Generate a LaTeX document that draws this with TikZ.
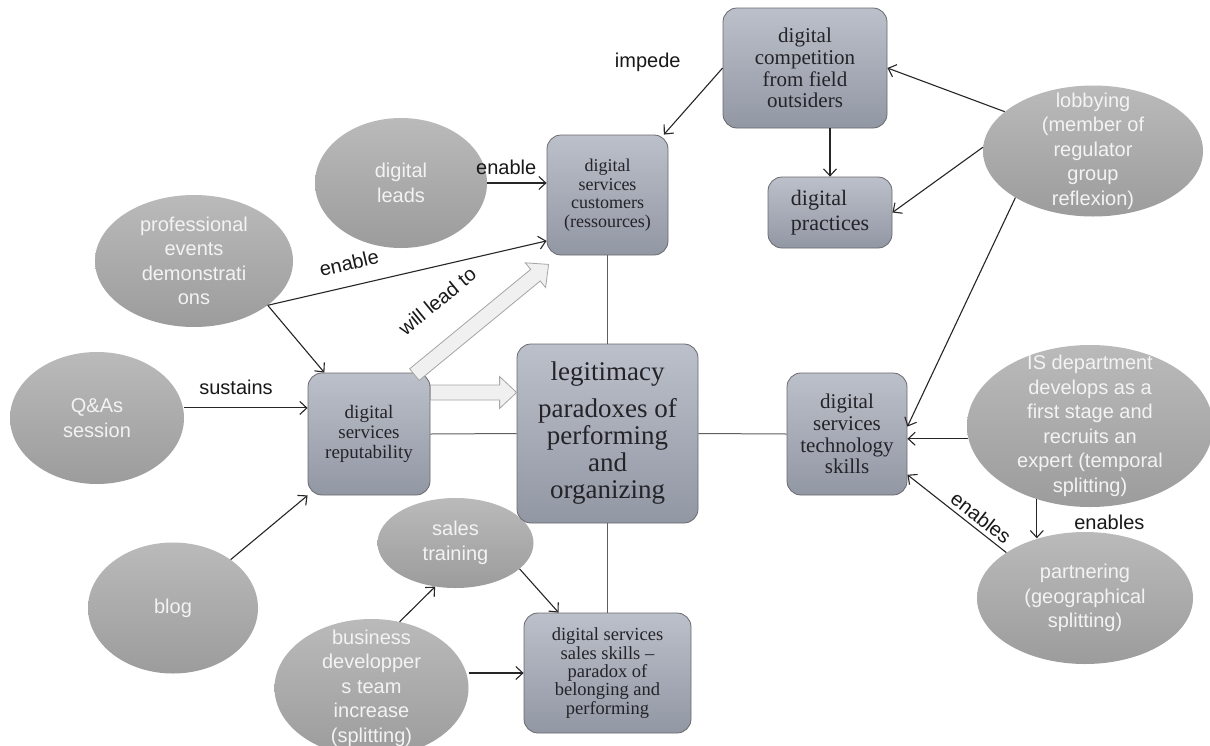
\documentclass[tikz,border=0pt]{standalone}
\usepackage{fontspec}
\setmainfont{Liberation Serif}
\newfontfamily\sansf{Liberation Sans}
\usetikzlibrary{arrows.meta,shapes.geometric,calc}
\definecolor{boxtop}{RGB}{188,192,202}
\definecolor{boxbot}{RGB}{146,151,164}
\definecolor{boxline}{RGB}{105,105,110}
\definecolor{elltop}{RGB}{186,186,186}
\definecolor{ellbot}{RGB}{156,156,156}
\definecolor{elltext}{RGB}{243,243,243}
\definecolor{boxtext}{RGB}{35,35,40}
\definecolor{linkgray}{RGB}{95,95,95}
\definecolor{barrowfill}{RGB}{240,240,240}
\definecolor{barrowline}{RGB}{165,165,165}
\tikzset{
 box/.style={rectangle, rounded corners=14pt, draw=boxline, line width=0.8pt, top color=boxtop, bottom color=boxbot, text=boxtext, align=center, inner sep=0pt},
 ell/.style={ellipse, draw=none, top color=elltop, bottom color=ellbot, inner sep=0pt},
 etext/.style={text=elltext, font=\sansf\fontsize{20}{24.5}\selectfont, align=center, inner sep=0pt},
 lab/.style={font=\sansf\fontsize{20}{24}\selectfont, text=black!90, inner sep=0pt},
 arr/.style={-{Straight Barb[length=7pt,width=13pt]}, line width=1.1pt, draw=black!85},
 link/.style={line width=1pt, draw=linkgray},
 barrow/.style={fill=barrowfill, draw=barrowline, line width=0.8pt},
}
\newcommand\blockarr[2]{%
  \coordinate (bah) at ($(#2)!17pt!(#1)$);
  \path[barrow] ($(#1)!7.5pt!90:(#2)$) -- ($(bah)!7.5pt!-90:(#1)$) -- ($(bah)!16pt!-90:(#1)$) -- (#2)
     -- ($(bah)!16pt!90:(#1)$) -- ($(bah)!7.5pt!90:(#1)$) -- ($(#1)!7.5pt!-90:(#2)$) -- cycle;}
\begin{document}
\begin{tikzpicture}[x=1pt,y=-1pt]
\clip (0,0) rectangle (1210,745);
\fill[white] (0,0) rectangle (1210,745);

% ellipses
\node[ell, minimum width=220pt, minimum height=131pt, label={[etext]center:{lobbying\\(member of\\regulator\\group\\reflexion)}}] (lobby) at (1093,151) {};
\node[ell, minimum width=172pt, minimum height=130pt, label={[etext]center:{digital\\leads}}] (leads) at (401,183) {};
\node[ell, minimum width=198pt, minimum height=132pt, label={[etext]center:{professional\\events\\demonstrati\\ons}}] (prof) at (194,261) {};
\node[ell, minimum width=174pt, minimum height=132pt, label={[etext]center:{Q\&As\\session}}] (QA) at (97,418) {};
\node[ell, minimum width=170pt, minimum height=131pt, label={[etext]center:{blog}}] (blog) at (173,608) {};
\node[ell, minimum width=156pt, minimum height=90pt, label={[etext]center:{sales\\training}}] (st) at (455.5,543) {};
\node[ell, minimum width=194pt, minimum height=138pt, label={[etext]center:{business\\developper\\s team\\increase\\(splitting)}}] (bus) at (371.5,688) {};
\node[ell, minimum width=246pt, minimum height=162pt, label={[etext]center:{IS department\\develops as a\\first stage and\\recruits an\\expert (temporal\\splitting)}}] (IS) at (1090,426) {};
\node[ell, minimum width=216pt, minimum height=132pt, label={[etext]center:{partnering\\(geographical\\splitting)}}] (partner) at (1085,598) {};

% boxes
\node[box, minimum width=164pt, minimum height=120pt, font=\fontsize{21}{21.7}\selectfont] (comp) at (805,68) {digital\\competition\\from field\\outsiders};
\node[box, minimum width=121pt, minimum height=120pt, font=\fontsize{18}{18.5}\selectfont] (cust) at (607.5,195) {digital\\services\\customers\\(ressources)};
\node[box, minimum width=124pt, minimum height=71pt, font=\fontsize{22}{25}\selectfont, align=left] (prac) at (830,212.5) {digital\\practices};
\node[box, minimum width=122pt, minimum height=122pt, font=\fontsize{19}{20}\selectfont] (rep) at (369,434) {digital\\services\\reputability};
\node[box, minimum width=181pt, minimum height=179pt, font=\fontsize{27}{27}\selectfont] (legit) at (607.5,433.5) {legitimacy\\[10pt]paradoxes of\\performing\\and\\organizing};
\node[box, minimum width=120pt, minimum height=122pt, font=\fontsize{21}{21.7}\selectfont] (tech) at (847,434) {digital\\services\\technology\\skills};
\node[box, minimum width=167pt, minimum height=120pt, font=\fontsize{18.5}{18.3}\selectfont] (sales) at (607.5,673) {digital services\\sales skills --\\paradox of\\belonging and\\performing};

% plain links
\draw[link] (cust.south) -- (legit.north);
\draw[link] (legit.south) -- (sales.north);
\draw[link] (rep.east) -- (legit.west);
\draw[link] (legit.east) -- (tech.west);

% block arrows
\coordinate (ba1s) at ($(rep.east)+(0,-41.5)$);
\coordinate (ba1e) at (ba1s -| legit.west);
\blockarr{ba1s}{ba1e}
\coordinate (ba2s) at ($(rep.north east)+(-16,2)$);
\coordinate (ba2e) at ($(cust.south west)+(2,9)$);
\blockarr{ba2s}{ba2e}
\path (ba2s) -- (ba2e) node[lab, sloped, pos=0.37, above=35pt] {will lead to};

% arrows
\draw[arr] (comp.west) -- (cust.47.5) node[lab, at start, anchor=east, xshift=-41.5pt, yshift=6pt] {impede};
\draw[arr] (prac.north |- comp.south) -- (prac.north);
\draw[arr] (lobby.156) -- (comp.east);
\draw[arr] (lobby.178) -- (prac.east);
\draw[arr] (lobby.211) -- (tech.7);
\draw[arr] (IS.186) -- (IS.186 -| tech.east);
\draw[arr] (IS.234.7) -- (IS.234.7 |- partner.128.4) node[lab, pos=0.6, right=37pt] {enables};
\draw[arr] (partner.150) -- (tech.-34) node[lab, sloped, pos=0.33, above=4pt] {enables};
\draw[arr] (leads.east) -- (leads.east -| cust.west) node[lab, pos=0.32, above=8pt] {enable};
\draw[arr] (prof.-31) -- (cust.217) node[lab, sloped, pos=0.31, above=15pt] {enable};
\draw[arr] (prof.-31) -- (rep.126);
\draw[arr] (QA.east |- rep.157) -- (rep.157) node[lab, pos=0.42, above=13pt] {sustains};
\draw[arr] (blog.40) -- (rep.south west);
\draw[arr] (bus.67) -- (st.245);
\draw[arr] (st.-22) -- (sales.129.5);
\draw[arr] (bus.east |- sales.west) -- (sales.west);
\end{tikzpicture}
\end{document}
